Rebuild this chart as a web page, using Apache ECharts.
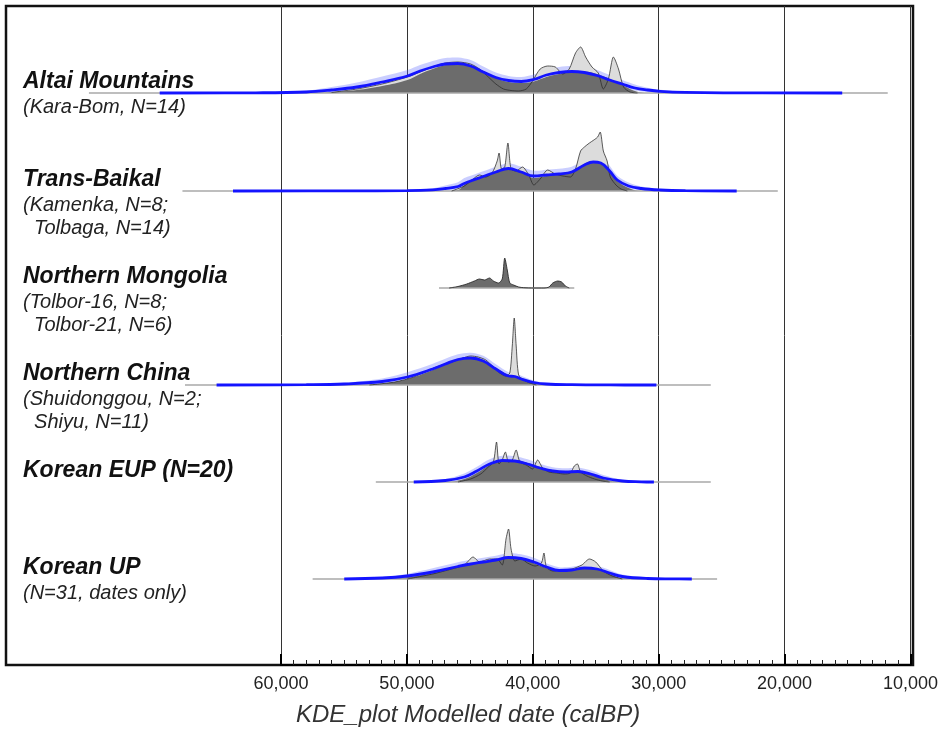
<!DOCTYPE html>
<html>
<head>
<meta charset="utf-8">
<script src="https://cdn.jsdelivr.net/npm/echarts@6/dist/echarts.min.js"></script>
<style>
  html, body { margin: 0; background: #fff; }
  #kdeChart { width: 941px; height: 737px; }
</style>
</head>
<body>
<div id="kdeChart"></div>
<script>
// tick labels on the date axis (calBP)
const tickValues = [60000, 50000, 40000, 30000, 20000, 10000]

const regionNames = ['Altai Mountains', 'Trans-Baikal', 'Northern Mongolia', 'Northern China', 'Korean EUP (N=20)', 'Korean UP']
const regionSubs = ['(Kara-Bom, N=14)', '(Kamenka, N=8;\n  Tolbaga, N=14)', '(Tolbor-16, N=8;\n  Tolbor-21, N=6)', '(Shuidonggou, N=2;\n  Shiyu, N=11)', '', '(N=31, dates only)']

// Altai Mountains
const altaiRange = [75200, 12000]
const altaiYears = [69600, 62000, 58000, 56000, 54000, 52000, 50000, 49000, 48000, 47000, 46000, 45000, 44000, 43000, 42000, 41000, 40000, 39000, 38000, 37000, 36000, 35000, 34000, 33000, 32000, 31000, 30000, 28000, 25000, 15600]
const altaiMean = [0, 0.2, 1, 3, 6, 11, 17, 22, 26, 29, 29.5, 27, 21, 15.5, 12.5, 11.5, 13.5, 18, 20.5, 21.5, 20.5, 17.5, 13, 9, 5, 3, 1.7, 0.6, 0.1, 0]
const altaiLo = [0, 0, 0.2, 0.8, 2.5, 6.3, 11.8, 16.8, 20.8, 23.8, 24.3, 21.8, 16.3, 11.3, 8.8, 7.8, 9.3, 13.3, 15.8, 16.8, 15.8, 12.8, 8.8, 5.5, 2.2, 1, 0.4, 0.1, 0, 0]
const altaiHi = [0, 0.6, 2.5, 6, 10.5, 16.5, 23, 28, 32, 35, 35.5, 33, 26.5, 20.5, 17, 16, 18.5, 23.5, 26, 27, 26, 23, 18, 13, 8.5, 5.2, 3.2, 1.3, 0.3, 0]
const altaiDark = [0, 0, 0, 1, 3, 7, 13, 19, 24, 28, 30, 28, 22, 15, 11, 10, 11.5, 16, 19, 21, 21.5, 19, 14, 8, 2, 0, 0, 0, 0, 0]
const altaiRaw = [[56000, 0.5], [54000, 4], [52000, 9], [50000, 16], [49000, 21], [48000, 26], [47000, 30], [46000, 31], [45000, 29], [44300, 24], [43600, 16], [43000, 9], [42400, 4], [41800, 2.5], [41200, 2], [40600, 4], [40100, 12], [39500, 24], [38900, 27], [38300, 26], [37700, 19], [37200, 24], [36700, 40], [36300, 46], [35900, 36], [35400, 26], [34900, 20], [34500, 4], [34100, 14], [33700, 36], [33300, 24], [32900, 6], [32400, 1], [31800, 0]]

// Trans-Baikal
const baikalRange = [67800, 20700]
const baikalYears = [63800, 55000, 50000, 48000, 47000, 46000, 45500, 45000, 44000, 43000, 42000, 41000, 40000, 39000, 38000, 37000, 36000, 35300, 34700, 34000, 33400, 32500, 31500, 30000, 28000, 23950]
const baikalMean = [0, 0.1, 0.4, 1.2, 2.5, 4.5, 7.5, 10, 14.5, 19, 22.5, 19, 15, 16, 17, 19, 26, 29, 28, 20, 11, 5, 2.5, 1, 0.3, 0]
const baikalLo = [0, 0, 0, 0.2, 0.6, 1.5, 3, 5.3, 9.8, 14.3, 17.8, 14.3, 10.3, 11.3, 12.3, 14.3, 20.8, 23.8, 22.8, 15.3, 7, 2.3, 0.8, 0.2, 0, 0]
const baikalHi = [0, 0.3, 1, 2.8, 5.5, 8.8, 13, 15.3, 19.8, 24.3, 27.8, 24.3, 20.3, 21.3, 22.3, 24.3, 31.8, 34.8, 33.8, 25.3, 15.3, 8.5, 4.6, 2.1, 0.7, 0]
const baikalDark = [0, 0, 0, 0, 0, 1, 6, 10, 14, 19, 22, 20, 13, 15, 17, 19, 27, 30, 28, 20, 10, 3, 0, 0, 0, 0]
const baikalRaw = [[46500, 0], [45500, 5], [44800, 12], [44300, 16], [43800, 14], [43300, 18], [42900, 30], [42750, 38], [42550, 22], [42300, 24], [42050, 48], [41800, 22], [41400, 20], [40900, 24], [40400, 16], [40000, 6], [39500, 12], [38900, 21], [38300, 17], [37700, 15], [37100, 14], [36700, 22], [36300, 40], [36000, 44], [35600, 48], [35250, 51], [34950, 54], [34750, 59], [34500, 40], [34200, 30], [33950, 14], [33500, 6], [33100, 2], [32600, 0]]

// Northern Mongolia (no modelled curve)
const mongoliaRange = [47500, 36800]
const mongoliaRaw = [[46700, 0], [46000, 1.5], [45300, 4], [44700, 7], [44300, 9], [43900, 8], [43500, 10], [43200, 7], [42800, 5], [42500, 9], [42300, 30], [42100, 18], [41900, 5], [41600, 3], [41200, 1], [40800, 0.3], [40000, 0], [39200, 0], [38800, 1], [38500, 5], [38100, 7], [37800, 6], [37500, 2], [37200, 0]]

// Northern China
const chinaRange = [67600, 26000]
const chinaYears = [65100, 58000, 55000, 52000, 50000, 48000, 47000, 46000, 45000, 44000, 43000, 42000, 41500, 41000, 40000, 39000, 37000, 34000, 30300]
const chinaMean = [0, 0.3, 1, 3.5, 8, 16, 21, 25.5, 27, 24, 16, 9, 8.5, 6, 2.5, 1, 0.3, 0.05, 0]
const chinaLo = [0, 0, 0.3, 1.2, 4, 10.8, 15.8, 20.3, 21.8, 18.8, 11.3, 5.5, 5, 3.2, 0.8, 0.2, 0, 0, 0]
const chinaHi = [0, 0.7, 2.2, 6.5, 12.7, 21.2, 26.2, 30.7, 32.2, 29.2, 20.7, 12.7, 12.2, 9.2, 4.5, 2, 0.6, 0.1, 0]
const chinaDark = [0, 0, 0, 1.5, 6, 15, 21, 26, 28, 25, 17, 10, 9, 7, 2, 0, 0, 0, 0]
const chinaRaw = [[53000, 0], [51000, 3], [49500, 8], [48500, 14], [47500, 19], [46500, 23], [45600, 27], [45000, 29], [44400, 28], [43800, 25], [43200, 18], [42700, 12], [42200, 9], [41900, 12], [41700, 40], [41550, 67], [41400, 40], [41200, 10], [40800, 5], [40300, 2], [39800, 0]]

// Korean EUP
const eupRange = [52500, 26000]
const eupYears = [49500, 47000, 45500, 44500, 43500, 42500, 41500, 40500, 39500, 38500, 37500, 36500, 35500, 34500, 33000, 31500, 30500]
const eupMean = [0, 1.5, 5, 11, 18, 21.5, 21, 18, 14, 11, 10, 10.5, 8, 4, 1, 0.2, 0]
const eupLo = [0, 0.3, 2.2, 6.8, 13.3, 16.8, 16.3, 13.3, 9.8, 7.3, 6.3, 6.8, 4.5, 1.6, 0.2, 0, 0]
const eupHi = [0, 3, 8.5, 15.2, 22.7, 26.2, 25.7, 22.7, 18.2, 14.7, 13.7, 14.2, 11.7, 7, 2.2, 0.5, 0]
const eupDark = [0, 0, 3, 9, 17, 22, 22, 19, 15, 11, 10, 11, 8, 3, 0, 0, 0]
const eupRaw = [[46000, 0], [45000, 3], [44200, 8], [43600, 15], [43200, 20], [42950, 40], [42750, 18], [42500, 22], [42250, 30], [42000, 20], [41700, 22], [41400, 32], [41100, 20], [40600, 17], [40100, 13], [39700, 22], [39300, 14], [38800, 10], [38200, 9], [37600, 8], [37100, 9], [36800, 16], [36550, 18], [36300, 10], [35800, 6], [35200, 3], [34600, 1], [34000, 0]]

// Korean UP
const upRange = [57500, 25500]
const upYears = [55000, 52000, 50000, 48000, 46000, 45000, 44000, 43000, 42000, 41000, 40000, 39000, 38000, 37000, 36000, 35000, 34000, 33000, 31000, 29000, 27500]
const upMean = [0, 1, 3, 7, 12.5, 15, 17, 19, 21.5, 20.5, 17, 12, 8.5, 9, 11, 10, 6, 2.5, 0.5, 0.1, 0]
const upLo = [0, 0.2, 1.1, 4, 8.3, 10.8, 12.8, 14.8, 17.3, 16.3, 12.8, 8.3, 5.5, 5.8, 7.8, 6.8, 3.2, 0.9, 0.1, 0, 0]
const upHi = [0, 2, 5.3, 10.7, 16.7, 19.2, 21.2, 23.2, 25.7, 24.7, 21.2, 15.7, 11.7, 12.2, 14.2, 13.2, 9, 4.5, 1.1, 0.2, 0]
const upDark = [0, 0, 2, 6, 12, 15, 17, 19, 22, 21, 16, 11, 8, 8.5, 11, 10, 5, 1, 0, 0, 0]
const upRaw = [[50000, 0], [48000, 5], [46500, 10], [45500, 14], [44800, 22], [44300, 17], [43500, 20], [42900, 20], [42500, 14], [42200, 40], [42000, 50], [41800, 30], [41500, 18], [41000, 20], [40500, 16], [39900, 13], [39400, 16], [39200, 26], [39000, 12], [38500, 8], [37800, 9], [37000, 10], [36200, 14], [35600, 20], [35100, 17], [34500, 8], [33800, 3], [33000, 0]]

const rows = [
    { range: altaiRange, years: altaiYears, mean: altaiMean, lo: altaiLo, hi: altaiHi, dark: altaiDark, raw: altaiRaw },
    { range: baikalRange, years: baikalYears, mean: baikalMean, lo: baikalLo, hi: baikalHi, dark: baikalDark, raw: baikalRaw },
    { range: mongoliaRange, raw: mongoliaRaw },
    { range: chinaRange, years: chinaYears, mean: chinaMean, lo: chinaLo, hi: chinaHi, dark: chinaDark, raw: chinaRaw },
    { range: eupRange, years: eupYears, mean: eupMean, lo: eupLo, hi: eupHi, dark: eupDark, raw: eupRaw },
    { range: upRange, years: upYears, mean: upMean, lo: upLo, hi: upHi, dark: upDark, raw: upRaw }
]

const baselines = [93, 191, 288, 385, 482, 579]
const rowHeight = 80
const font = 'Liberation Sans, Arial, sans-serif'

const pairs = (years, vals) => years.map((y, k) => [y, vals[k]])

const grids = []
const xAxes = []
const yAxes = []
const series = []
const titles = []

rows.forEach((r, i) => {
    grids.push({ left: 6, right: 28, top: baselines[i] - rowHeight, height: rowHeight })
    xAxes.push({ type: 'value', gridIndex: i, inverse: true, min: 10000, max: 81760, show: false })
    yAxes.push({ type: 'value', gridIndex: i, min: 0, max: rowHeight, show: false })
    const base = { xAxisIndex: i, yAxisIndex: i, type: 'line', symbol: 'none', silent: true, clip: false }

    // date range line
    series.push(Object.assign({}, base, {
        data: [[r.range[0], 0], [r.range[1], 0]],
        lineStyle: { color: '#a8a8a8', width: 1.5 }
    }))
    if (r.years) {
        // unmodelled KDE (light fill)
        series.push(Object.assign({}, base, {
            data: r.raw, smooth: 0.25,
            lineStyle: { width: 0 },
            areaStyle: { color: '#dcdcdc', opacity: 1 }
        }))
        // modelled distribution (dark fill)
        series.push(Object.assign({}, base, {
            data: pairs(r.years, r.dark), smooth: 0.4,
            lineStyle: { width: 0 },
            areaStyle: { color: '#6c6c6c', opacity: 1 }
        }))
        // outline of unmodelled KDE
        series.push(Object.assign({}, base, {
            data: r.raw, smooth: 0.25,
            lineStyle: { color: '#2a2a2a', width: 0.9, opacity: 0.85 }
        }))
        // uncertainty band between lo and hi
        series.push({
            type: 'custom', xAxisIndex: i, yAxisIndex: i, silent: true,
            data: r.years.map((y, k) => [y, r.lo[k], r.hi[k]]),
            encode: { x: 0, y: [1, 2] },
            renderItem: (params, api) => {
                if (params.dataIndex !== 0) return
                const upper = r.years.map((y, k) => api.coord([y, r.hi[k]]))
                const lower = r.years.map((y, k) => api.coord([y, r.lo[k]])).reverse()
                return {
                    type: 'polygon',
                    shape: { points: upper.concat(lower), smooth: 0.3 },
                    style: { fill: 'rgba(95, 105, 255, 0.33)' }
                }
            }
        })
        // KDE mean
        series.push(Object.assign({}, base, {
            data: pairs(r.years, r.mean), smooth: 0.4,
            lineStyle: { color: '#1414ff', width: 2.8 }
        }))
    } else {
        series.push(Object.assign({}, base, {
            data: r.raw, smooth: 0.25,
            lineStyle: { color: '#2a2a2a', width: 0.9 },
            areaStyle: { color: '#6c6c6c', opacity: 1 }
        }))
    }

    titles.push({
        left: 23, top: baselines[i] - 23, padding: 0, itemGap: 2,
        text: regionNames[i], subtext: regionSubs[i],
        textStyle: { fontFamily: font, fontSize: 23, fontWeight: 'bold', fontStyle: 'italic', color: '#111', lineHeight: 24 },
        subtextStyle: { fontFamily: font, fontSize: 20, fontStyle: 'italic', color: '#222', lineHeight: 23 }
    })
})

// tick axis, 60,000 -> 10,000
grids.push({ left: 281, right: 28, top: 6, bottom: 72 })
xAxes.push({
    type: 'value', gridIndex: 6, inverse: true, min: 10000, max: 60000, interval: 10000,
    axisLine: { show: true, lineStyle: { color: '#000', width: 2 } },
    axisTick: { show: true, inside: true, length: 11, lineStyle: { color: '#000', width: 2 } },
    minorTick: { show: true, splitNumber: 10, length: 5, lineStyle: { color: '#222', width: 1 } },
    splitLine: { show: true, lineStyle: { color: '#333', width: 1 } },
    axisLabel: {
        fontFamily: font, fontSize: 18, color: '#222', margin: 10,
        formatter: v => tickValues.includes(v) ? v.toLocaleString('en-US') : ''
    }
})
yAxes.push({ type: 'value', gridIndex: 6, show: false })

// plot frame
grids.push({ left: 6, right: 28, top: 6, bottom: 72, show: true, borderColor: '#111', borderWidth: 2.5, backgroundColor: 'transparent' })
xAxes.push({ type: 'value', gridIndex: 7, show: false })
yAxes.push({ type: 'value', gridIndex: 7, show: false })

titles.push({
    left: 296, top: 703, padding: 0,
    text: 'KDE_plot Modelled date (calBP)',
    textStyle: { fontFamily: font, fontSize: 24, fontWeight: 'normal', fontStyle: 'italic', color: '#333' }
})

const kdeChart = echarts.init(document.getElementById('kdeChart'))
kdeChart.setOption({
    animation: false,
    backgroundColor: '#fff',
    title: titles,
    grid: grids,
    xAxis: xAxes,
    yAxis: yAxes,
    series: series
})
window.addEventListener('resize', () => kdeChart.resize())
</script>
</body>
</html>
